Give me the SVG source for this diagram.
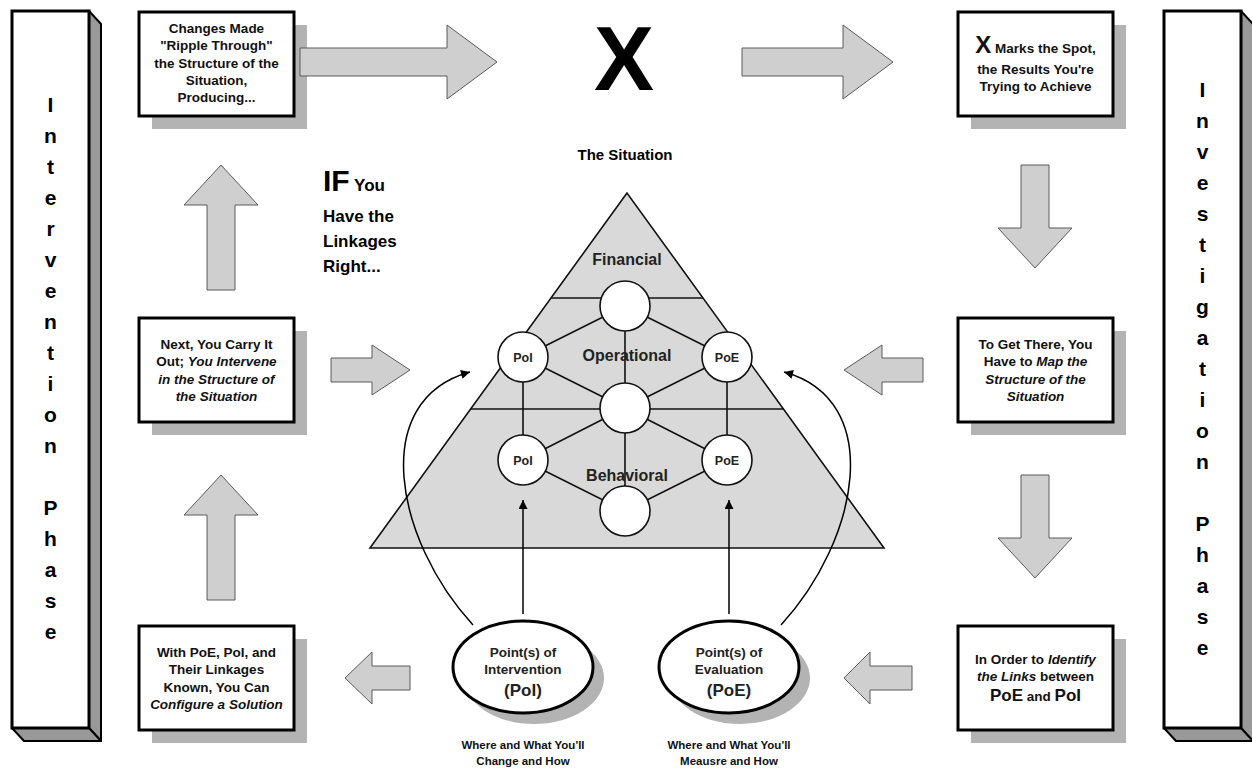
<svg xmlns="http://www.w3.org/2000/svg" width="1252" height="778" viewBox="0 0 1252 778">
<defs>
<marker id="ah" viewBox="0 0 10 10" refX="10" refY="5" markerWidth="11" markerHeight="9" markerUnits="userSpaceOnUse" orient="auto"><path d="M0,0 L10,5 L0,10 Z" fill="#000"/></marker>
</defs>
<style>
text{font-family:"Liberation Sans",Arial,sans-serif;font-weight:bold;fill:#111;text-anchor:middle}
.bt{font-size:13.5px}
.it{font-style:italic}
.pl{font-size:21px;fill:#000}
.front{fill:#fff;stroke:#000;stroke-width:3}
.side{fill:#999;stroke:#000;stroke-width:2;stroke-linejoin:round}
.box{fill:#fff;stroke:#000;stroke-width:3}
.shadow{fill:#b3b3b3}
.barrow{fill:#cfcfcf;stroke:#5a5a5a;stroke-width:1}
.link{stroke:#111;stroke-width:1.6;fill:none}
.node{fill:#fff;stroke:#111;stroke-width:1.6}
.cur{stroke:#000;stroke-width:1.5;fill:none}
.ell{fill:#fff;stroke:#000;stroke-width:3}
.lay{font-size:16px;fill:#222}
.cl{font-size:12.5px;fill:#222}
.sub{font-size:11.5px}
</style>

<g id="pillar-left">
<path class="side" d="M89,11 L101,24 L101,741 L89,728 Z"/>
<path class="side" d="M12,728 L89,728 L101,741 L24,741 Z"/>
<rect class="front" x="12" y="11" width="77" height="717"/>
<text class="pl" x="50.5"><tspan x="50.5" y="112">I</tspan><tspan x="50.5" y="143">n</tspan><tspan x="50.5" y="174">t</tspan><tspan x="50.5" y="205">e</tspan><tspan x="50.5" y="236">r</tspan><tspan x="50.5" y="267">v</tspan><tspan x="50.5" y="298">e</tspan><tspan x="50.5" y="329">n</tspan><tspan x="50.5" y="360">t</tspan><tspan x="50.5" y="391">i</tspan><tspan x="50.5" y="422">o</tspan><tspan x="50.5" y="453">n</tspan><tspan x="50.5" y="515">P</tspan><tspan x="50.5" y="546">h</tspan><tspan x="50.5" y="577">a</tspan><tspan x="50.5" y="608">s</tspan><tspan x="50.5" y="639">e</tspan></text>
</g>

<g id="pillar-right">
<path class="side" d="M1241,11 L1253,24 L1253,741 L1241,728 Z"/>
<path class="side" d="M1164,728 L1241,728 L1253,741 L1176,741 Z"/>
<rect class="front" x="1164" y="11" width="77" height="717"/>
<text class="pl" x="1202.5"><tspan x="1202.5" y="97">I</tspan><tspan x="1202.5" y="128">n</tspan><tspan x="1202.5" y="159">v</tspan><tspan x="1202.5" y="190">e</tspan><tspan x="1202.5" y="221">s</tspan><tspan x="1202.5" y="252">t</tspan><tspan x="1202.5" y="283">i</tspan><tspan x="1202.5" y="314">g</tspan><tspan x="1202.5" y="345">a</tspan><tspan x="1202.5" y="376">t</tspan><tspan x="1202.5" y="407">i</tspan><tspan x="1202.5" y="438">o</tspan><tspan x="1202.5" y="469">n</tspan><tspan x="1202.5" y="531">P</tspan><tspan x="1202.5" y="562">h</tspan><tspan x="1202.5" y="593">a</tspan><tspan x="1202.5" y="624">s</tspan><tspan x="1202.5" y="655">e</tspan></text>
</g>

<g id="box-ripple">
<rect class="shadow" x="152" y="25" width="155" height="104"/>
<rect class="box" x="139" y="12" width="155" height="104"/>
<text class="bt"><tspan x="216.5" y="33">Changes Made</tspan><tspan x="216.5" y="50">"Ripple Through"</tspan><tspan x="216.5" y="68">the Structure of the</tspan><tspan x="216.5" y="85">Situation,</tspan><tspan x="216.5" y="102">Producing...</tspan></text>
</g>

<g id="box-x-marks">
<rect class="shadow" x="971" y="25" width="155" height="104"/>
<rect class="box" x="958" y="12" width="155" height="104"/>
<text class="bt" x="1035.5" y="53"><tspan style="font-size:24px">X</tspan> Marks the Spot,</text>
<text class="bt"><tspan x="1035.5" y="74">the Results You're</tspan><tspan x="1035.5" y="91">Trying to Achieve</tspan></text>
</g>

<g id="box-intervene">
<rect class="shadow" x="152" y="331" width="155" height="104"/>
<rect class="box" x="139" y="318" width="155" height="104"/>
<text class="bt"><tspan x="216.5" y="349">Next, You Carry It</tspan><tspan x="216.5" y="366">Out; <tspan class="it">You Intervene</tspan></tspan><tspan class="it" x="216.5" y="384">in the Structure of</tspan><tspan class="it" x="216.5" y="401">the Situation</tspan></text>
</g>

<g id="box-map">
<rect class="shadow" x="971" y="331" width="155" height="104"/>
<rect class="box" x="958" y="318" width="155" height="104"/>
<text class="bt"><tspan x="1035.5" y="349">To Get There, You</tspan><tspan x="1035.5" y="366">Have to <tspan class="it">Map the</tspan></tspan><tspan class="it" x="1035.5" y="384">Structure of the</tspan><tspan class="it" x="1035.5" y="401">Situation</tspan></text>
</g>

<g id="box-configure">
<rect class="shadow" x="152" y="639" width="155" height="104"/>
<rect class="box" x="139" y="626" width="155" height="104"/>
<text class="bt"><tspan x="216.5" y="657">With PoE, PoI, and</tspan><tspan x="216.5" y="674">Their Linkages</tspan><tspan x="216.5" y="692">Known, You Can</tspan><tspan class="it" x="216.5" y="709">Configure a Solution</tspan></text>
</g>

<g id="box-identify">
<rect class="shadow" x="971" y="639" width="155" height="104"/>
<rect class="box" x="958" y="626" width="155" height="104"/>
<text class="bt"><tspan x="1035.5" y="664">In Order to <tspan class="it">Identify</tspan></tspan><tspan x="1035.5" y="681"><tspan class="it">the Links</tspan> between</tspan><tspan x="1035.5" y="701"><tspan style="font-size:17px">PoE</tspan> and <tspan style="font-size:17px">PoI</tspan></tspan></text>
</g>

<g id="result-x">
<text x="624" y="90" style="font-size:90px;fill:#000">X</text>
</g>

<g id="title">
<text x="625" y="160" style="font-size:15px;fill:#000">The Situation</text>
</g>

<g id="if-note">
<text x="323" y="191" style="text-anchor:start;font-size:17px;fill:#000"><tspan style="font-size:30px">IF</tspan> You</text>
<text style="text-anchor:start;font-size:17px;fill:#000"><tspan x="323" y="222">Have the</tspan><tspan x="323" y="247">Linkages</tspan><tspan x="323" y="272">Right...</tspan></text>
</g>

<g id="situation">
<polygon points="627,193 370,548 884,548" fill="#d9d9d9" stroke="#111" stroke-width="1.6" stroke-linejoin="miter"/>
<line class="link" x1="551" y1="298" x2="703" y2="298"/>
<line class="link" x1="470" y1="409" x2="784" y2="409"/>
<text class="lay" x="627" y="265">Financial</text>
</g>

<g id="connectors">
<path class="link" d="M625,306 L523,357 M625,306 L727,357 M625,306 L625,408 M523,357 L625,408 M727,357 L625,408 M523,357 L523,460 M727,357 L727,460 M625,408 L523,460 M625,408 L727,460 M625,408 L625,511 M523,460 L625,511 M727,460 L625,511"/>
<path class="barrow" d="M300,48 L447,48 L447,25 L497,62 L447,99 L447,76 L300,76 Z"/>
<path class="barrow" d="M742,48 L843,48 L843,25 L893,62 L843,99 L843,76 L742,76 Z"/>
<path class="barrow" d="M207,290 L207,205 L184,205 L221,165 L258,205 L235,205 L235,290 Z"/>
<path class="barrow" d="M207,600 L207,515 L184,515 L221,475 L258,515 L235,515 L235,600 Z"/>
<path class="barrow" d="M1021,165 L1049,165 L1049,228 L1072,228 L1035,268 L998,228 L1021,228 Z"/>
<path class="barrow" d="M1021,475 L1049,475 L1049,538 L1072,538 L1035,578 L998,538 L1021,538 Z"/>
<path class="barrow" d="M331,358 L372,358 L372,345 L410,370 L372,395 L372,382 L331,382 Z"/>
<path class="barrow" d="M923,358 L882,358 L882,345 L844,370 L882,395 L882,382 L923,382 Z"/>
<path class="barrow" d="M410,666 L372,666 L372,652 L345,678 L372,704 L372,690 L410,690 Z"/>
<path class="barrow" d="M912,666 L870,666 L870,652 L844,678 L870,704 L870,690 L912,690 Z"/>
<path class="cur" d="M473,625 C 395,540 368,400 470,372" marker-end="url(#ah)"/>
<path class="cur" d="M781,625 C 859,540 886,400 784,372" marker-end="url(#ah)"/>
<line class="cur" x1="523" y1="614" x2="523" y2="500" marker-end="url(#ah)"/>
<line class="cur" x1="729" y1="614" x2="729" y2="500" marker-end="url(#ah)"/>
</g>

<g id="node-top"><circle class="node" cx="625" cy="306" r="25"/></g>
<g id="node-poi-1"><circle class="node" cx="523" cy="357" r="25"/><text class="cl" x="523" y="362">PoI</text></g>
<g id="node-poe-1"><circle class="node" cx="727" cy="357" r="25"/><text class="cl" x="727" y="362">PoE</text></g>
<g id="node-mid"><circle class="node" cx="625" cy="408" r="25"/></g>
<g id="node-poi-2"><circle class="node" cx="523" cy="460" r="25"/><text class="cl" x="523" y="465">PoI</text></g>
<g id="node-poe-2"><circle class="node" cx="727" cy="460" r="25"/><text class="cl" x="727" y="465">PoE</text></g>
<g id="node-bottom"><circle class="node" cx="625" cy="511" r="25"/></g>
<g id="layer-labels">
<text class="lay" x="627" y="361">Operational</text>
<text class="lay" x="627" y="481">Behavioral</text>
</g>

<g id="ellipse-poi">
<ellipse class="shadow" cx="534" cy="678" rx="70" ry="46"/>
<ellipse class="ell" cx="523" cy="667" rx="70" ry="46"/>
<text class="bt" style="fill:#222"><tspan x="523" y="657">Point(s) of</tspan><tspan x="523" y="674">Intervention</tspan><tspan x="523" y="696" style="font-size:17px">(PoI)</tspan></text>
<text class="sub"><tspan x="523" y="749">Where and What You'll</tspan><tspan x="523" y="765">Change and How</tspan></text>
</g>

<g id="ellipse-poe">
<ellipse class="shadow" cx="740" cy="678" rx="70" ry="46"/>
<ellipse class="ell" cx="729" cy="667" rx="70" ry="46"/>
<text class="bt" style="fill:#222"><tspan x="729" y="657">Point(s) of</tspan><tspan x="729" y="674">Evaluation</tspan><tspan x="729" y="696" style="font-size:17px">(PoE)</tspan></text>
<text class="sub"><tspan x="729" y="749">Where and What You'll</tspan><tspan x="729" y="765">Meausre and How</tspan></text>
</g>
</svg>
